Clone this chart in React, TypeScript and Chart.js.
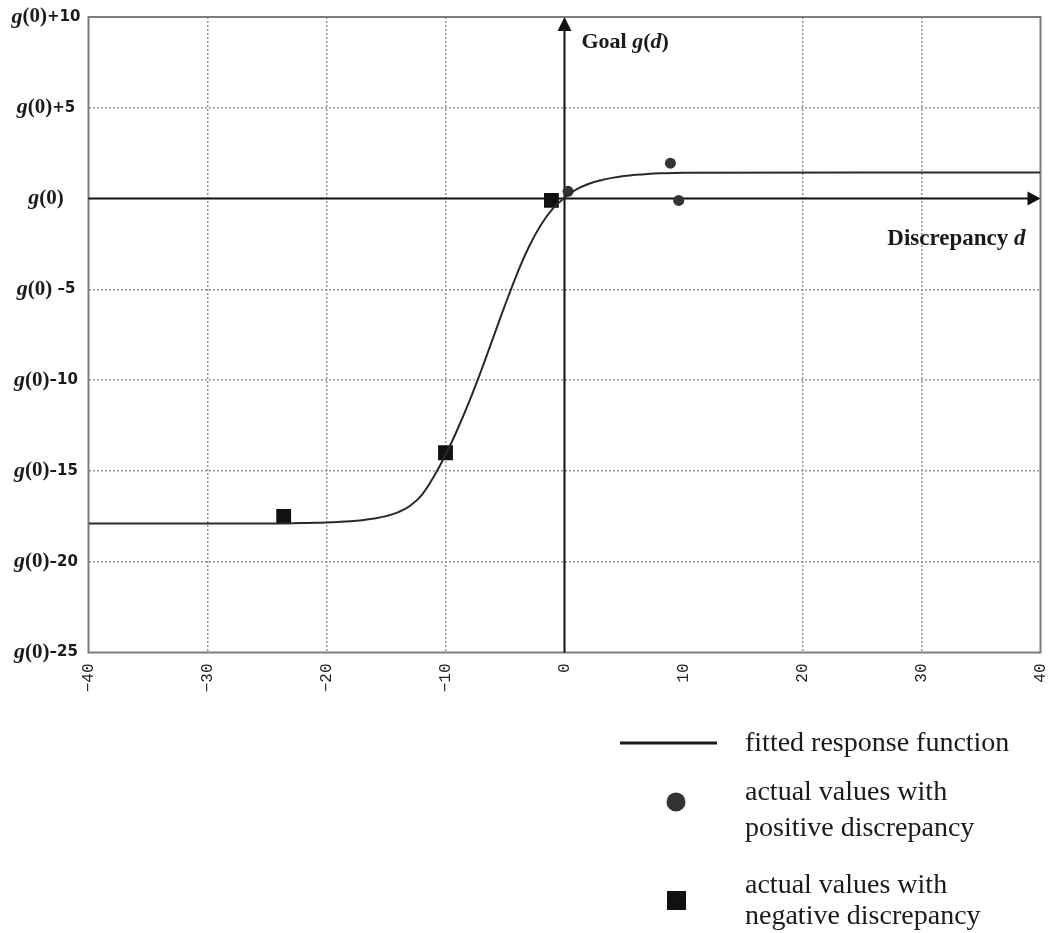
import React, { useEffect, useRef } from 'react';
import { Chart, registerables } from 'chart.js';

Chart.register(...registerables);

// Fitted response function
const curveX = [-40, -24, -22, -21, -20, -19, -18, -17, -16, -15, -14, -13, -12, -11, -10, -9, -8, -7, -6, -5, -4, -3, -2, -1, 0, 1, 2, 3, 4, 5, 6, 7, 8, 10, 40];
const curveY = [-17.9, -17.89, -17.87, -17.86, -17.84, -17.81, -17.77, -17.71, -17.62, -17.49, -17.28, -16.93, -16.33, -15.33, -14.12, -12.72, -11.17, -9.47, -7.67, -5.87, -4.17, -2.67, -1.47, -0.57, 0.05, 0.5, 0.8, 1.0, 1.14, 1.24, 1.31, 1.36, 1.39, 1.42, 1.43];

// Actual values with positive discrepancy
const posX = [0.3, 8.9, 9.6];
const posY = [0.4, 1.95, -0.1];

// Actual values with negative discrepancy
const negX = [-23.6, -10.0, -1.1];
const negY = [-17.5, -14.0, -0.1];

const xTickValues = [-40, -30, -20, -10, 0, 10, 20, 30, 40];
const xTickLabels = ['−40', '−30', '−20', '−10', '0', '10', '20', '30', '40'];
const yTickValues = [-25, -20, -15, -10, -5, 0, 5, 10];
const yTickLabels = ['g(0)–25', 'g(0)–20', 'g(0)–15', 'g(0)–10', 'g(0) –5', 'g(0)', 'g(0)+5', 'g(0)+10'];

const xAxisTitle = 'Discrepancy d';
const yAxisTitle = 'Goal g(d)';
const legendLabels = [
  ['fitted response function'],
  ['actual values with', 'positive discrepancy'],
  ['actual values with', 'negative discrepancy'],
];

type Run = { t: string; font: string };

const drawRuns = (ctx: CanvasRenderingContext2D, runs: Run[], x: number, y: number, align: 'left' | 'center' | 'right') => {
  let total = 0;
  runs.forEach((r) => {
    ctx.font = r.font;
    total += ctx.measureText(r.t).width;
  });
  let cx = align === 'left' ? x : align === 'center' ? x - total / 2 : x - total;
  ctx.textAlign = 'left';
  runs.forEach((r) => {
    ctx.font = r.font;
    ctx.fillText(r.t, cx, y);
    cx += ctx.measureText(r.t).width;
  });
};

const titleRuns = (s: string, size: number): Run[] => {
  const B = `bold ${size}px "Liberation Serif"`;
  const BI = `italic bold ${size}px "Liberation Serif"`;
  const runs: Run[] = [];
  const parts = s.split(/(\bg(?=\()|\bd\b)/);
  parts.forEach((p) => {
    if (!p) return;
    if (p === 'g' || p === 'd') runs.push({ t: p, font: BI });
    else runs.push({ t: p, font: B });
  });
  return runs;
};

const overlay = {
  id: 'overlay',
  beforeDatasetsDraw(chart: any) {
    const { ctx, chartArea: a, scales } = chart;
    const x = scales.x;
    const y = scales.y;
    ctx.save();
    ctx.strokeStyle = '#7c7c7c';
    ctx.lineWidth = 2;
    ctx.setLineDash([]);
    ctx.strokeRect(a.left, a.top, a.right - a.left, a.bottom - a.top);

    const x0 = x.getPixelForValue(0);
    const y0 = y.getPixelForValue(0);
    ctx.strokeStyle = '#111';
    ctx.lineWidth = 2;
    ctx.beginPath();
    ctx.moveTo(x0, a.bottom);
    ctx.lineTo(x0, a.top + 8);
    ctx.stroke();
    ctx.beginPath();
    ctx.moveTo(a.left, y0);
    ctx.lineTo(a.right - 8, y0);
    ctx.stroke();
    ctx.fillStyle = '#111';
    ctx.beginPath();
    ctx.moveTo(x0, a.top);
    ctx.lineTo(x0 - 7, a.top + 14);
    ctx.lineTo(x0 + 7, a.top + 14);
    ctx.closePath();
    ctx.fill();
    ctx.beginPath();
    ctx.moveTo(a.right, y0);
    ctx.lineTo(a.right - 13, y0 - 7);
    ctx.lineTo(a.right - 13, y0 + 7);
    ctx.closePath();
    ctx.fill();
    ctx.restore();
  },
  afterDraw(chart: any) {
    const { ctx, chartArea: a, scales } = chart;
    const x = scales.x;
    const y = scales.y;
    ctx.save();
    ctx.fillStyle = '#1a1a1a';
    ctx.textBaseline = 'middle';
    yTickValues.forEach((v, i) => {
      const lab = yTickLabels[i];
      const py = y.getPixelForValue(v);
      const runs: Run[] = [
        { t: lab.slice(0, 1), font: 'italic bold 22px "Liberation Serif"' },
        { t: lab.slice(1, 4), font: 'bold 21px "Liberation Serif"' },
      ];
      if (lab.length > 4) runs.push({ t: lab.slice(4), font: 'bold 15px "DejaVu Sans"' });
      drawRuns(ctx, runs, 46, py, 'center');
    });
    ctx.textBaseline = 'alphabetic';
    const x0 = x.getPixelForValue(0);
    drawRuns(ctx, titleRuns(yAxisTitle, 22), x0 + 17, 48, 'left');
    drawRuns(ctx, titleRuns(xAxisTitle, 23), a.right - 15, 245, 'right');

    // legend
    ctx.strokeStyle = '#1a1a1a';
    ctx.lineWidth = 3;
    ctx.beginPath();
    ctx.moveTo(620, 743);
    ctx.lineTo(717, 743);
    ctx.stroke();
    ctx.fillStyle = '#333';
    ctx.beginPath();
    ctx.arc(676, 802, 9.5, 0, Math.PI * 2);
    ctx.fill();
    ctx.fillStyle = '#111';
    ctx.fillRect(667, 891, 19, 19);

    ctx.fillStyle = '#1a1a1a';
    ctx.font = '28px "Liberation Serif"';
    ctx.textAlign = 'left';
    const baselines = [[751], [800, 836], [893, 924]];
    legendLabels.forEach((lines, i) => {
      lines.forEach((ln, j) => ctx.fillText(ln, 745, baselines[i][j]));
    });
    ctx.restore();
  },
};

export default function App() {
  const ref = useRef<HTMLCanvasElement | null>(null);
  useEffect(() => {
    if (!ref.current) return;
    const gridColor = (c: any) => {
      const v = c.tick ? c.tick.value : null;
      if (v === 0 || v === -40 || v === 40 || v === -25 || v === 10) return 'rgba(0,0,0,0)';
      return '#959595';
    };
    const chart = new Chart(ref.current, {
      type: 'scatter',
      data: {
        datasets: [
          {
            label: legendLabels[0][0],
            data: curveX.map((v, i) => ({ x: v, y: curveY[i] })),
            showLine: true,
            borderColor: '#2a2a2a',
            borderWidth: 2,
            pointRadius: 0,
            tension: 0.4,
            fill: false,
          } as any,
          {
            label: legendLabels[1].join(' '),
            data: posX.map((v, i) => ({ x: v, y: posY[i] })),
            pointStyle: 'circle',
            pointRadius: 5.5,
            backgroundColor: '#333',
            borderColor: '#333',
            borderWidth: 0,
          },
          {
            label: legendLabels[2].join(' '),
            data: negX.map((v, i) => ({ x: v, y: negY[i] })),
            pointStyle: 'rect',
            pointRadius: 10.5,
            backgroundColor: '#111',
            borderColor: '#111',
            borderWidth: 0,
          },
        ],
      },
      options: {
        animation: false,
        responsive: false,
        events: [],
        layout: { padding: { left: 88.5, right: 6, top: 17, bottom: 230.5 } },
        plugins: { legend: { display: false }, tooltip: { enabled: false } },
        scales: {
          x: {
            type: 'linear',
            min: -40,
            max: 40,
            afterBuildTicks: (s: any) => {
              s.ticks = xTickValues.map((v) => ({ value: v }));
            },
            afterFit: (s: any) => {
              s.height = 50;
              s.paddingLeft = 0;
              s.paddingRight = 0;
            },
            ticks: {
              minRotation: 90,
              maxRotation: 90,
              padding: 11,
              color: '#222',
              font: { family: '"Liberation Mono"', size: 16 },
              callback: (v: any, i: number) => xTickLabels[i],
            },
            grid: { color: gridColor, lineWidth: 1.5, drawTicks: false },
            border: { display: false, dash: [2, 2] },
          },
          y: {
            type: 'linear',
            min: -25,
            max: 10,
            afterBuildTicks: (s: any) => {
              s.ticks = yTickValues.map((v) => ({ value: v }));
            },
            afterFit: (s: any) => {
              s.width = 0;
              s.paddingTop = 0;
              s.paddingBottom = 0;
            },
            ticks: { display: false },
            grid: { color: gridColor, lineWidth: 1.5, drawTicks: false },
            border: { display: false, dash: [2, 2] },
          },
        },
      },
      plugins: [overlay],
    });
    return () => chart.destroy();
  }, []);
  return (
    <div style={{ position: 'absolute', left: 0, top: 0, width: 1051, height: 933, background: '#fff' }}>
      <canvas ref={ref} width={1051} height={933} />
    </div>
  );
}
